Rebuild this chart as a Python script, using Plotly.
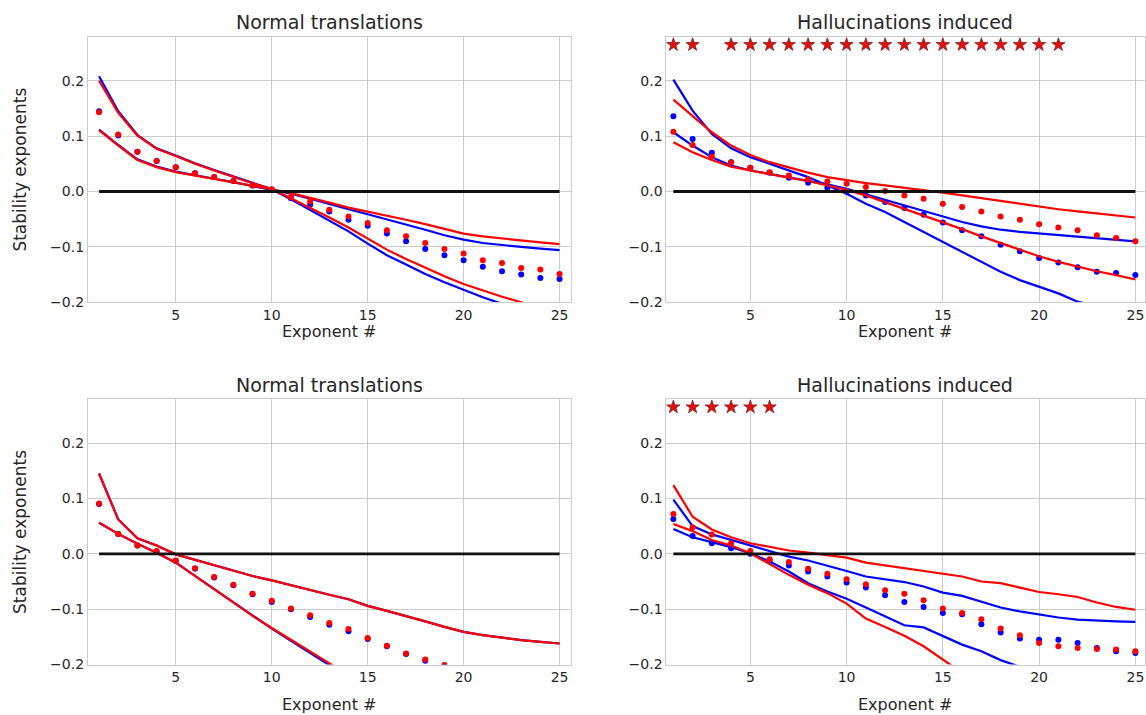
import plotly.graph_objects as go

# ---------------- data ----------------
exponent = list(range(1, 26))
x_ticks = [5, 10, 15, 20, 25]
y_ticks = [-0.2, -0.1, 0.0, 0.1, 0.2]
titles = ["Normal translations", "Hallucinations induced",
          "Normal translations", "Hallucinations induced"]
y_label = "Stability exponents"
x_label = "Exponent #"

# panel 1 (top left)
tl_blue_c1 = [0.208, 0.145, 0.102, 0.078, 0.065, 0.051, 0.039, 0.027, 0.016, 0.004, -0.014, -0.033, -0.053,
              -0.072, -0.094, -0.115, -0.132, -0.149, -0.164, -0.178, -0.191, -0.203, -0.214, -0.224, -0.233]
tl_blue_c2 = [0.112, 0.084, 0.058, 0.045, 0.036, 0.029, 0.023, 0.017, 0.010, 0.004, -0.004, -0.013, -0.023,
              -0.032, -0.041, -0.050, -0.059, -0.069, -0.079, -0.087, -0.093, -0.097, -0.100, -0.103, -0.106]
tl_blue_mean = [0.145, 0.101, 0.072, 0.055, 0.044, 0.033, 0.026, 0.019, 0.011, 0.003, -0.012, -0.024, -0.036,
                -0.051, -0.062, -0.076, -0.090, -0.104, -0.115, -0.124, -0.136, -0.144, -0.150, -0.156, -0.158]
tl_red_c1 = [0.200, 0.142, 0.101, 0.077, 0.064, 0.050, 0.038, 0.026, 0.015, 0.005, -0.012, -0.029, -0.047,
             -0.065, -0.085, -0.105, -0.122, -0.138, -0.153, -0.167, -0.179, -0.190, -0.200, -0.209, -0.217]
tl_red_c2 = [0.111, 0.083, 0.057, 0.044, 0.035, 0.029, 0.023, 0.017, 0.010, 0.004, -0.003, -0.011, -0.020,
             -0.029, -0.036, -0.043, -0.051, -0.059, -0.068, -0.076, -0.081, -0.085, -0.089, -0.092, -0.095]
tl_red_mean = [0.143, 0.103, 0.072, 0.055, 0.044, 0.033, 0.026, 0.019, 0.011, 0.004, -0.010, -0.018, -0.033,
               -0.045, -0.057, -0.070, -0.081, -0.093, -0.104, -0.112, -0.124, -0.129, -0.138, -0.141, -0.149]

# panel 2 (top right)
tr_blue_c1 = [0.202, 0.146, 0.104, 0.078, 0.062, 0.050, 0.038, 0.026, 0.011, -0.004, -0.022, -0.037, -0.055,
              -0.073, -0.091, -0.109, -0.127, -0.145, -0.160, -0.172, -0.184, -0.199, -0.208, -0.216, -0.223]
tr_blue_c2 = [0.107, 0.083, 0.062, 0.047, 0.038, 0.032, 0.026, 0.019, 0.013, 0.005, -0.005, -0.015, -0.025,
              -0.035, -0.046, -0.055, -0.063, -0.069, -0.073, -0.076, -0.079, -0.082, -0.085, -0.088, -0.090]
tr_blue_mean = [0.136, 0.095, 0.070, 0.053, 0.043, 0.034, 0.025, 0.016, 0.007, 0.000, -0.007, -0.019, -0.030,
                -0.042, -0.056, -0.070, -0.081, -0.096, -0.108, -0.120, -0.128, -0.137, -0.145, -0.147, -0.151]
tr_red_c1 = [0.166, 0.137, 0.107, 0.083, 0.066, 0.053, 0.043, 0.034, 0.026, 0.020, 0.015, 0.011, 0.007,
             0.003, -0.002, -0.007, -0.012, -0.017, -0.023, -0.028, -0.032, -0.036, -0.040, -0.044, -0.047]
tr_red_c2 = [0.089, 0.071, 0.057, 0.045, 0.038, 0.031, 0.025, 0.019, 0.011, 0.003, -0.007, -0.019, -0.031,
             -0.043, -0.055, -0.068, -0.081, -0.093, -0.106, -0.117, -0.127, -0.136, -0.144, -0.151, -0.159]
tr_red_mean = [0.108, 0.084, 0.063, 0.053, 0.043, 0.035, 0.029, 0.022, 0.018, 0.014, 0.008, 0.001, -0.007,
               -0.013, -0.022, -0.028, -0.036, -0.045, -0.051, -0.059, -0.065, -0.070, -0.079, -0.084, -0.090]
tr_star_x = [1, 2, 4, 5, 6, 7, 8, 9, 10, 11, 12, 13, 14, 15, 16, 17, 18, 19, 20, 21]

# panel 3 (bottom left)
bl_blue_c1 = [0.145, 0.062, 0.028, 0.015, -0.001, -0.011, -0.021, -0.031, -0.040, -0.048, -0.057, -0.065, -0.074,
              -0.082, -0.094, -0.103, -0.112, -0.122, -0.132, -0.141, -0.147, -0.152, -0.156, -0.159, -0.162]
bl_blue_c2 = [0.056, 0.036, 0.018, 0.002, -0.016, -0.040, -0.064, -0.088, -0.112, -0.135, -0.157, -0.179, -0.201,
              -0.223, None, None, None, None, None, None, None, None, None, None, None]
bl_blue_mean = [0.090, 0.036, 0.015, 0.004, -0.013, -0.027, -0.043, -0.057, -0.073, -0.087, -0.100, -0.114, -0.128,
                -0.140, -0.154, -0.167, -0.181, -0.193, -0.202, -0.212, None, None, None, None, None]
bl_red_c1 = [0.145, 0.062, 0.028, 0.015, -0.001, -0.011, -0.021, -0.031, -0.040, -0.048, -0.057, -0.065, -0.074,
             -0.082, -0.094, -0.103, -0.112, -0.122, -0.132, -0.141, -0.147, -0.152, -0.156, -0.159, -0.162]
bl_red_c2 = [0.056, 0.036, 0.018, 0.002, -0.016, -0.040, -0.064, -0.088, -0.112, -0.134, -0.155, -0.177, -0.198,
             -0.219, None, None, None, None, None, None, None, None, None, None, None]
bl_red_mean = [0.091, 0.036, 0.015, 0.005, -0.012, -0.026, -0.042, -0.056, -0.072, -0.085, -0.099, -0.111, -0.125,
               -0.136, -0.152, -0.166, -0.180, -0.191, -0.201, -0.212, None, None, None, None, None]

# panel 4 (bottom right)
br_blue_c1 = [0.098, 0.050, 0.035, 0.025, 0.015, 0.004, -0.005, -0.012, -0.021, -0.031, -0.041, -0.046, -0.051,
              -0.059, -0.070, -0.076, -0.087, -0.097, -0.104, -0.110, -0.115, -0.119, -0.121, -0.122, -0.123]
br_blue_c2 = [0.045, 0.030, 0.021, 0.012, 0.001, -0.014, -0.032, -0.053, -0.068, -0.081, -0.097, -0.113, -0.129,
              -0.133, -0.149, -0.164, -0.176, -0.192, -0.204, -0.214, None, None, None, None, None]
br_blue_mean = [0.063, 0.032, 0.019, 0.010, 0.000, -0.012, -0.021, -0.032, -0.041, -0.052, -0.061, -0.075, -0.087,
                -0.096, -0.107, -0.109, -0.127, -0.142, -0.153, -0.155, -0.155, -0.161, -0.170, -0.176, -0.179]
br_red_c1 = [0.124, 0.067, 0.044, 0.030, 0.019, 0.012, 0.006, 0.002, -0.002, -0.007, -0.016, -0.021, -0.026,
             -0.030, -0.035, -0.041, -0.050, -0.053, -0.061, -0.069, -0.073, -0.078, -0.088, -0.096, -0.101]
br_red_c2 = [0.054, 0.041, 0.025, 0.015, 0.001, -0.019, -0.038, -0.056, -0.071, -0.090, -0.117, -0.132, -0.148,
             -0.167, -0.190, -0.215, None, None, None, None, None, None, None, None, None]
br_red_mean = [0.072, 0.048, 0.035, 0.019, 0.005, -0.010, -0.015, -0.027, -0.036, -0.046, -0.055, -0.066, -0.072,
               -0.084, -0.099, -0.107, -0.118, -0.135, -0.147, -0.161, -0.167, -0.170, -0.172, -0.173, -0.176]
br_star_x = [1, 2, 3, 4, 5, 6]

star_level = 0.265

panels = [
    dict(blue=(tl_blue_c1, tl_blue_c2, tl_blue_mean), red=(tl_red_c1, tl_red_c2, tl_red_mean), stars=[]),
    dict(blue=(tr_blue_c1, tr_blue_c2, tr_blue_mean), red=(tr_red_c1, tr_red_c2, tr_red_mean), stars=tr_star_x),
    dict(blue=(bl_blue_c1, bl_blue_c2, bl_blue_mean), red=(bl_red_c1, bl_red_c2, bl_red_mean), stars=[]),
    dict(blue=(br_blue_c1, br_blue_c2, br_blue_mean), red=(br_red_c1, br_red_c2, br_red_mean), stars=br_star_x),
]

# ---------------- layout geometry (target pixels in the picture) ----------------
W, H = 1146, 715
VS = 0.988  # observed vertical squeeze of the rendered page -> compensate
px_x = [(88, 571), (667, 1146), (88, 571), (667, 1146)]
px_y = [(37, 302), (37, 302), (399, 664), (399, 664)]
title_y = [22, 22, 385, 385]
xlabel_y = [331, 331, 704, 704]
x_ranges = [[0.42, 25.57], [0.64, 25.5], [0.42, 25.57], [0.64, 25.5]]
y_range = [-0.2, 0.279]


def py(v):
    """target picture pixel row -> paper fraction"""
    return 1 - (v / VS) / H


FONT = "DejaVu Sans"
TXT = "#262626"
GRID = "#cccccc"

fig = go.Figure()
layout = dict(width=W, height=H, margin=dict(l=0, r=0, t=0, b=0),
              paper_bgcolor="white", plot_bgcolor="white", showlegend=False,
              font=dict(family=FONT, color=TXT, size=14))
annotations = []

for i, p in enumerate(panels):
    n = "" if i == 0 else str(i + 1)
    xa, ya = "x" + n, "y" + n
    x0, x1 = px_x[i]
    y0, y1 = px_y[i]
    layout["xaxis" + n] = dict(domain=[x0 / W, x1 / W], range=x_ranges[i], anchor=ya,
                               tickvals=x_ticks, showgrid=True, gridcolor=GRID, gridwidth=1,
                               showline=True, linecolor=GRID, linewidth=1, mirror=True,
                               zeroline=False, ticks="", tickfont=dict(size=14, color=TXT))
    layout["yaxis" + n] = dict(domain=[max(0, py(y1)), min(1, py(y0))], range=y_range, anchor=xa,
                               tickvals=y_ticks, tickformat=".1f", showgrid=True, gridcolor=GRID,
                               gridwidth=1, showline=True, linecolor=GRID, linewidth=1, mirror=True,
                               zeroline=False, ticks="", tickfont=dict(size=14, color=TXT))
    for color, key in (("#0000ff", "blue"), ("#ff0000", "red")):
        c1, c2, mean = p[key]
        for curve in (c1, c2):
            fig.add_trace(go.Scatter(x=exponent, y=curve, mode="lines", xaxis=xa, yaxis=ya,
                                     line=dict(color=color, width=2.2), connectgaps=False))
        fig.add_trace(go.Scatter(x=exponent, y=mean, mode="markers", xaxis=xa, yaxis=ya,
                                 marker=dict(color=color, size=6, line=dict(width=0))))
    fig.add_trace(go.Scatter(x=[exponent[0], exponent[-1]], y=[0, 0], mode="lines", xaxis=xa, yaxis=ya,
                             line=dict(color="#111111", width=2.8)))
    if p["stars"]:
        fig.add_trace(go.Scatter(x=p["stars"], y=[star_level] * len(p["stars"]), mode="markers",
                                 xaxis=xa, yaxis=ya, cliponaxis=False,
                                 marker=dict(symbol="star", size=10, color="#e01010",
                                             line=dict(color="#8b1a1a", width=0.8))))
    right = min(x1, 1145)
    cx = (x0 + right) / 2 / W
    annotations.append(dict(text=titles[i], x=cx, y=py(title_y[i]), xref="paper", yref="paper",
                            xanchor="center", yanchor="middle", showarrow=False,
                            font=dict(size=19, family=FONT, color=TXT)))
    annotations.append(dict(text=x_label, x=cx, y=py(xlabel_y[i]), xref="paper", yref="paper",
                            xanchor="center", yanchor="middle", showarrow=False,
                            font=dict(size=16, family=FONT, color=TXT)))
    if i % 2 == 0:
        annotations.append(dict(text=y_label, x=20 / W, y=py((y0 + y1) / 2), xref="paper",
                                yref="paper", xanchor="center", yanchor="middle", showarrow=False,
                                textangle=-90, font=dict(size=17, family=FONT, color=TXT)))

layout["annotations"] = annotations
fig.update_layout(**layout)
fig.write_html("out.html")
